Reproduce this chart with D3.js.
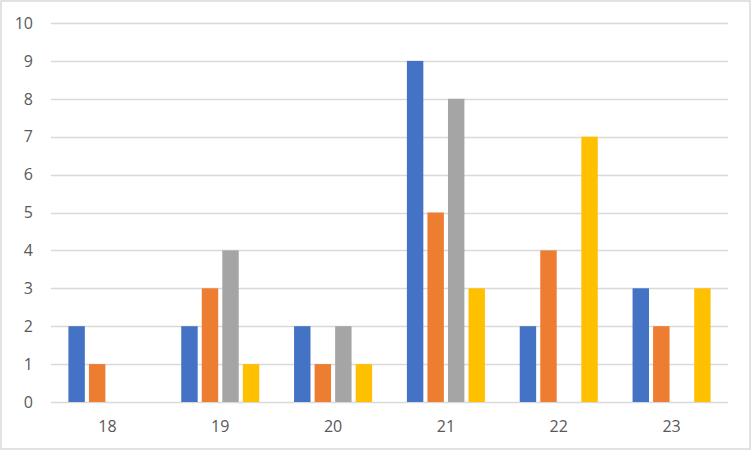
<!DOCTYPE html>
<html>
<head>
<meta charset="utf-8">
<script src="https://cdn.jsdelivr.net/npm/d3@7"></script>
<style>
  html, body { margin: 0; padding: 0; background: #fff; }
  svg { display: block; }
</style>
</head>
<body>
<div id="chart"></div>
<script>
// Chart data
const categories = ["18", "19", "20", "21", "22", "23"];
const seriesNames = ["Series1", "Series2", "Series3", "Series4"];
const series1 = [2, 2, 2, 9, 2, 3];
const series2 = [1, 3, 1, 5, 4, 2];
const series3 = [0, 4, 2, 8, 0, 0];
const series4 = [0, 1, 1, 3, 7, 3];
const yTicks = [0, 1, 2, 3, 4, 5, 6, 7, 8, 9, 10];
const seriesColors = ["#4472C4", "#ED7D31", "#A5A5A5", "#FFC000"];

const allSeries = [series1, series2, series3, series4];

const width = 752, height = 451;
const plot = { left: 51, right: 728, top: 23, bottom: 402 };

const svg = d3.select("#chart").append("svg")
  .attr("width", width)
  .attr("height", height)
  .style("font-family", "'Open Sans', 'Noto Sans', sans-serif");

// chart area border
svg.append("rect")
  .attr("x", 1).attr("y", 1)
  .attr("width", 749).attr("height", 448)
  .attr("fill", "#fff")
  .attr("stroke", "#D9D9D9")
  .attr("stroke-width", 1.5);

const x0 = d3.scaleBand()
  .domain(categories)
  .range([plot.left, plot.right])
  .paddingInner(0).paddingOuter(0);

const groupPad = 17.4;
const x1 = d3.scaleBand()
  .domain(seriesNames)
  .range([groupPad, x0.bandwidth() - groupPad])
  .paddingInner(0.2).paddingOuter(0);

const y = d3.scaleLinear()
  .domain([0, 10])
  .range([plot.bottom, plot.top]);

// gridlines
svg.append("g")
  .selectAll("line")
  .data(yTicks)
  .join("line")
  .attr("x1", plot.left)
  .attr("x2", plot.right)
  .attr("y1", d => Math.round(y(d)) + 0.5)
  .attr("y2", d => Math.round(y(d)) + 0.5)
  .attr("stroke", "#D9D9D9")
  .attr("stroke-width", 1.3);

// y tick labels
svg.append("g")
  .selectAll("text")
  .data(yTicks)
  .join("text")
  .attr("x", 33)
  .attr("y", d => y(d))
  .attr("dy", "0.36em")
  .attr("text-anchor", "end")
  .attr("fill", "#595959")
  .style("font-size", "16px")
  .text(d => d);

// bars
const groups = svg.append("g")
  .selectAll("g")
  .data(categories)
  .join("g")
  .attr("transform", d => `translate(${x0(d)},0)`);

groups.selectAll("rect")
  .data((d, i) => allSeries.map((s, k) => ({ name: seriesNames[k], value: s[i], k })))
  .join("rect")
  .attr("x", d => x1(d.name))
  .attr("width", x1.bandwidth())
  .attr("y", d => y(d.value))
  .attr("height", d => y(0) - y(d.value))
  .attr("fill", d => seriesColors[d.k]);

// x category labels
svg.append("g")
  .selectAll("text")
  .data(categories)
  .join("text")
  .attr("x", d => x0(d) + x0.bandwidth() / 2)
  .attr("y", 426)
  .attr("dy", "0.36em")
  .attr("text-anchor", "middle")
  .attr("fill", "#595959")
  .style("font-size", "16px")
  .text(d => d);
</script>
</body>
</html>
